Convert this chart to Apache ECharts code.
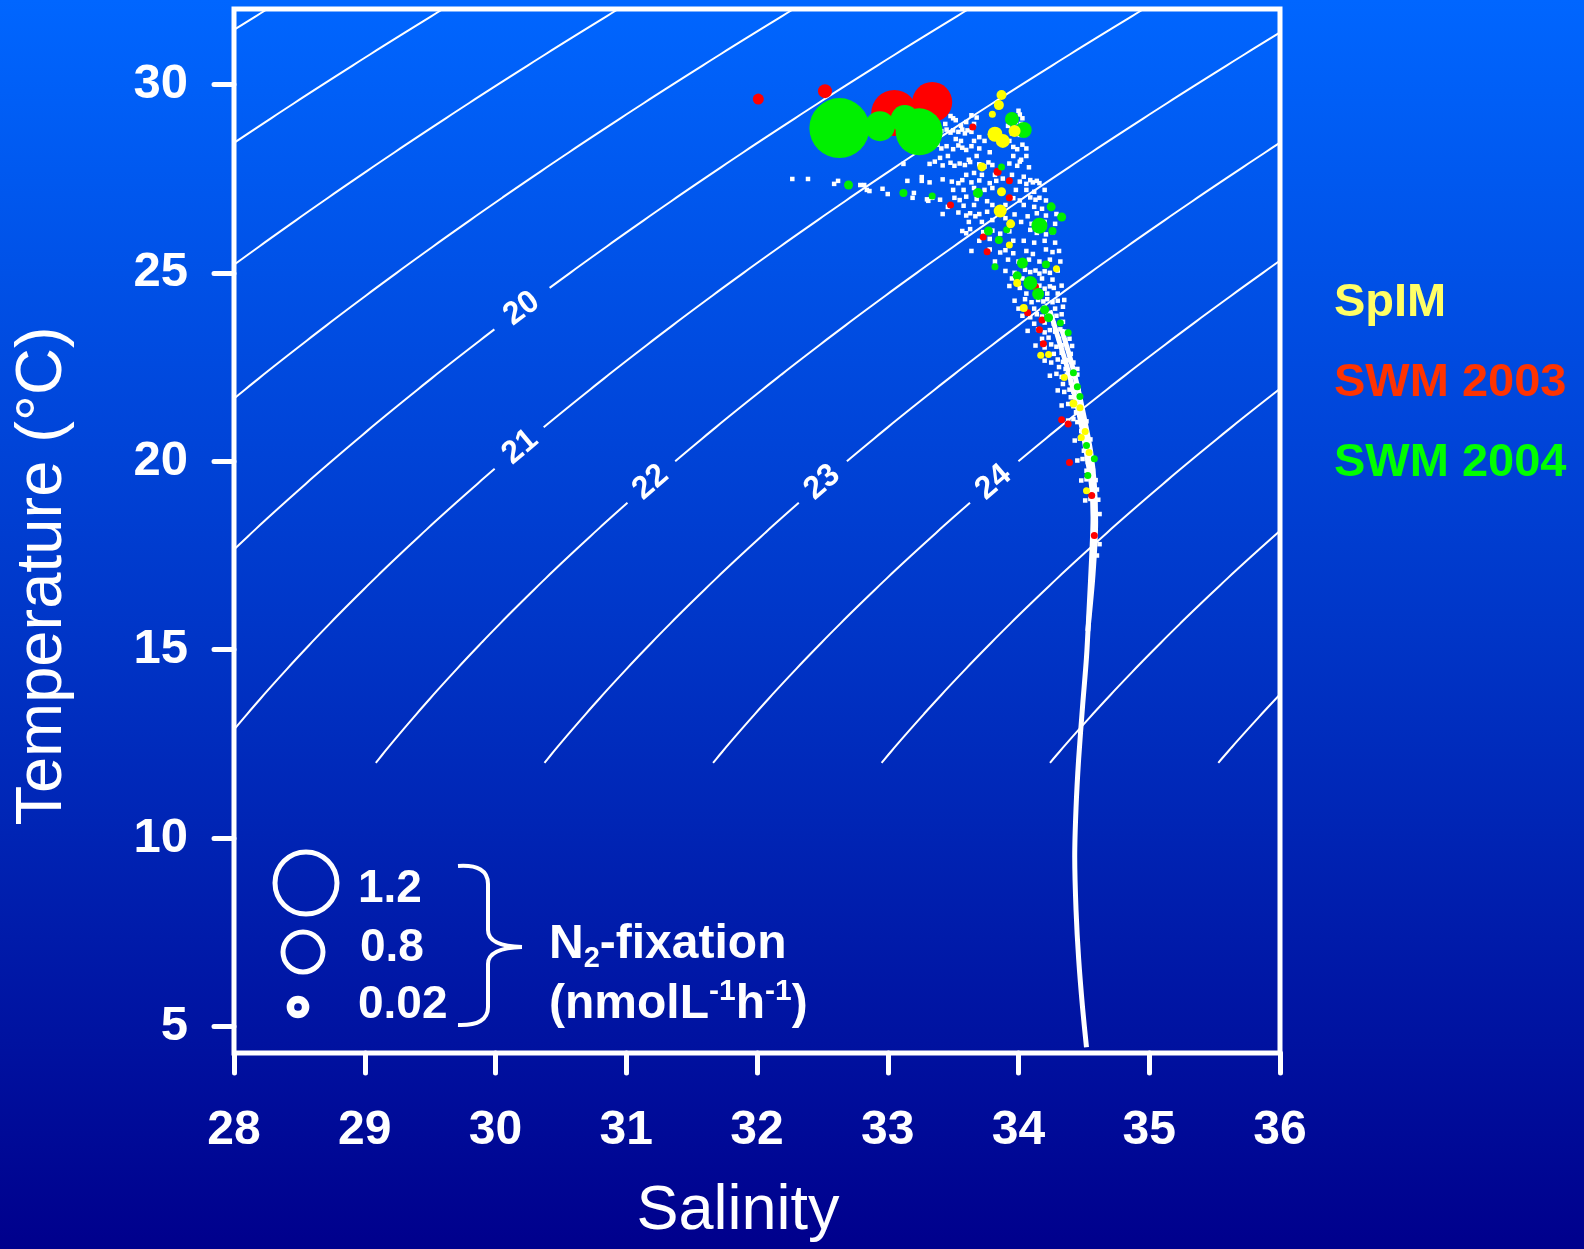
<!DOCTYPE html>
<html><head><meta charset="utf-8">
<script src="https://cdn.jsdelivr.net/npm/echarts@6/dist/echarts.min.js"></script>
<style>html,body{margin:0;padding:0;width:1584px;height:1249px;overflow:hidden;} #c{width:1584px;height:1249px;}</style>
</head><body><div id="c"></div><script>
// ---------- data ----------
const salinityRange = [28, 36];
const temperatureRange = [4.3, 32];
const temperatureTicks = [5, 10, 15, 20, 25, 30];
const sigmaLevels = [16, 17, 18, 19, 20, 21, 22, 23, 24, 25, 26, 27];
const contourLabelLevels = [20, 21, 22, 23, 24];
const contourLabelTemps = [24.05, 20.38, 19.44, 19.44, 19.44];
const contourMinTemp = 12;
const contourMaxTemp = 32.6;

// deep CTD profiles (salinity, temperature)
const ctdTrace = [[34.52,4.45],[34.49,5.5],[34.46,6.8],[34.44,8.1],[34.43,9.5],[34.44,10.8],[34.46,12.1],[34.49,13.5],[34.52,14.8],[34.54,16.1],[34.56,17.5],[34.57,18.5],[34.56,19.3],[34.53,20.0],[34.49,20.8],[34.44,21.6],[34.38,22.4],[34.31,23.2],[34.24,24.0]];
const ctdTrace2 = [[34.53,15.5],[34.57,17.0],[34.59,18.4],[34.58,19.4],[34.55,20.3],[34.50,21.2],[34.45,22.0],[34.39,22.8],[34.33,23.5]];
// surface CTD scatter (salinity, temperature)
const ctdCloud = [
[33.48,29.16],[33.50,29.10],[33.64,29.18],[33.68,29.12],[34.01,29.2],[34.03,29.1],
[33.41,28.76],[33.45,28.80],[33.48,28.72],[33.50,28.78],[33.54,28.74],[33.57,28.80],[33.59,28.70],[33.61,28.78],[33.64,28.74],[33.95,28.70],[33.97,28.80],[34.01,28.66],[34.03,28.72],
[33.34,28.34],[33.38,28.40],[33.41,28.30],[33.45,28.36],[33.50,28.28],[33.54,28.38],[33.57,28.32],[33.60,28.26],[33.64,28.36],[33.70,28.30],[33.96,28.34],[33.99,28.28],[34.03,28.40],[34.06,28.30],
[33.32,27.89],[33.36,27.95],[33.42,27.85],[33.48,27.92],[33.51,27.84],[33.55,27.90],[33.59,27.86],[33.63,27.94],[33.70,27.88],[33.74,27.82],[33.77,27.93],[33.80,27.86],[33.93,27.90],[33.99,27.84],[34.01,27.95],
[33.26,27.44],[33.32,27.40],[33.42,27.48],[33.49,27.42],[33.54,27.38],[33.57,27.46],[33.64,27.40],[33.70,27.45],[33.78,27.38],[33.83,27.44],[34.01,27.42],[34.06,27.36],[34.09,27.46],[34.11,27.40],[34.14,27.44],[34.16,27.38],
[33.19,26.99],[33.30,26.95],[33.34,27.02],[33.40,26.94],[33.51,26.99],[33.55,26.93],[33.60,27.02],[33.68,26.96],[33.76,26.90],[33.96,26.98],[34.01,26.92],[34.09,27.00],[34.13,26.94],[34.16,26.99],[34.21,26.92],
[33.42,26.56],[33.54,26.60],[33.60,26.52],[33.63,26.58],[33.67,26.50],[33.70,26.56],[33.76,26.62],[33.97,26.55],[34.07,26.50],[34.14,26.58],[34.21,26.52],[34.29,26.56],
[33.57,26.11],[33.60,26.05],[33.63,26.16],[33.73,26.08],[33.80,26.12],[33.86,26.04],[33.93,26.10],[34.09,26.14],[34.14,26.06],[34.21,26.02],[34.26,26.08],
[33.64,25.58],[33.78,25.62],[33.86,25.54],[33.90,25.60],[33.96,25.52],[34.06,25.58],[34.11,25.50],[34.21,25.62],[34.26,25.55],[34.31,25.58],
[32.27,27.49],[32.39,27.49],[32.59,27.36],[32.62,27.44],[32.79,27.33],[32.82,27.33],[32.86,27.17],[32.84,27.20],[32.96,27.23],[33.00,27.09],[33.15,27.44],[33.20,27.12],[33.26,27.54],[33.31,26.91],[33.34,26.99],[33.12,27.89],
[33.90,25.05],[33.97,25.00],[34.05,25.08],[34.09,25.02],[34.13,25.06],[34.16,24.98],[34.20,25.04],[34.24,25.00],[34.30,25.06],
[33.93,24.65],[34.01,24.60],[34.07,24.68],[34.13,24.62],[34.16,24.66],[34.20,24.58],[34.24,24.64],[34.27,24.60],[34.33,24.66],
[33.97,24.26],[34.05,24.30],[34.10,24.22],[34.15,24.28],[34.19,24.24],[34.22,24.30],[34.26,24.22],[34.30,24.26],[34.35,24.28],
[34.03,23.86],[34.09,23.82],[34.14,23.90],[34.18,23.84],[34.22,23.88],[34.25,23.82],[34.29,23.86],[34.33,23.90],
[34.07,23.46],[34.15,23.50],[34.20,23.42],[34.24,23.48],[34.28,23.44],[34.32,23.50],[34.35,23.44],
[34.13,23.07],[34.20,23.02],[34.25,23.10],[34.29,23.04],[34.33,23.08],[34.37,23.02],[34.41,23.06],
[34.20,22.67],[34.25,22.62],[34.30,22.70],[34.34,22.64],[34.38,22.68],[34.42,22.62],
[34.24,22.27],[34.29,22.32],[34.33,22.24],[34.37,22.30],[34.41,22.26],[34.45,22.30],
[34.30,21.88],[34.35,21.84],[34.39,21.90],[34.42,21.85],[34.46,21.88],
[34.33,21.48],[34.38,21.52],[34.42,21.46],[34.45,21.50],[34.48,21.45],
[34.38,21.08],[34.42,21.12],[34.45,21.04],[34.49,21.10],[34.52,21.06],
[34.43,20.55],[34.47,20.60],[34.51,20.52],[34.55,20.58],
[34.45,20.02],[34.49,20.06],[34.53,19.98],[34.57,20.04],
[34.48,19.49],[34.52,19.52],[34.56,19.46],[34.59,19.50],
[34.51,18.96],[34.55,19.00],[34.58,18.92],[34.61,18.98],
[33.36,29.0],[33.40,29.2],[33.44,28.95],[33.52,29.05],[33.56,28.9],[33.60,29.0],[33.66,28.95],[33.70,28.6],[33.74,28.5],[33.78,28.2],[33.68,28.1],[33.62,28.0],[33.46,28.1],[33.40,28.05],[33.52,28.55],[33.56,28.5],[33.66,28.5],[33.92,28.9],[33.98,29.0],[34.0,29.3],[34.02,28.95],[33.93,28.5],[33.96,28.1],[34.02,28.0],[34.06,28.1],[34.08,27.8],
[33.60,27.6],[33.66,27.65],[33.72,27.6],[33.82,27.6],[33.88,27.5],[33.95,27.6],[34.04,27.55],[33.5,27.2],[33.58,27.2],[33.66,27.25],[33.74,27.2],[33.8,27.25],[33.98,27.2],[34.06,27.2],[34.12,27.15],[34.2,27.2],[33.46,26.75],[33.58,26.78],[33.66,26.8],[33.8,26.8],[33.9,26.8],[34.04,26.8],[34.12,26.75],[34.18,26.7],[33.62,26.35],[33.72,26.35],[33.8,26.4],[33.9,26.45],[34.02,26.35],[34.1,26.3],[34.2,26.35],[34.28,26.3],[33.7,25.85],[33.78,25.9],[33.96,25.85],[34.04,25.85],[34.12,25.8],[34.2,25.85],[34.28,25.8],[33.82,25.3],[33.92,25.35],[34.0,25.3],[34.08,25.35],[34.16,25.3],[34.24,25.35],[34.32,25.3],
[33.95,24.85],[34.03,24.85],[34.1,24.82],[34.18,24.85],[34.26,24.82],[34.3,24.45],[34.22,24.45],[34.14,24.48],[34.06,24.45],[34.0,24.05],[34.12,24.05],[34.2,24.08],[34.28,24.05],[34.34,24.1],[34.12,23.65],[34.2,23.68],[34.27,23.65],[34.34,23.7],[34.39,23.25],[34.31,23.25],[34.23,23.28],[34.18,23.25],[34.27,22.85],[34.33,22.88],[34.4,22.85],[34.45,22.45],[34.36,22.45],[34.31,22.5],[34.44,22.05],[34.4,22.08],[34.34,22.05],[34.44,21.68],[34.4,21.7],[34.48,21.25],[34.44,21.3],[34.51,20.82],[34.48,20.8],[34.54,20.3],[34.5,20.28],[34.57,19.75],[34.52,19.75],[34.6,19.25],[34.55,19.22],[34.62,18.6],[34.58,18.4],[34.62,17.8],[34.6,17.5]
];
// N2 fixation samples: [salinity, temperature, rate nmol/L/h]
const swm2003 = [
[32.01,29.61,0.22],[32.52,29.82,0.28],[33.05,29.24,0.92],[33.34,29.53,0.8],[33.65,28.87,0.14],[33.84,27.68,0.16],[33.93,27.44,0.14],[33.93,26.99,0.14],[33.48,26.80,0.12],[33.73,25.95,0.12],[33.76,25.56,0.1],
[34.13,24.63,0.12],[34.07,23.94,0.12],[34.18,23.75,0.12],[34.16,23.49,0.1],[34.19,23.12,0.1],[34.33,21.10,0.1],[34.38,20.99,0.1],[34.39,19.97,0.1],[34.56,19.09,0.1],[34.58,18.03,0.1]
];
const swm2004 = [
[32.63,28.84,1.2],[32.94,28.89,0.6],[33.13,29.08,0.56],[33.24,28.74,0.94],[33.95,29.08,0.28],[34.04,28.79,0.32],[32.70,27.33,0.18],[33.12,27.12,0.16],[33.34,27.04,0.12],[33.69,27.12,0.2],[33.87,27.81,0.14],[34.25,26.75,0.18],[34.33,26.48,0.18],[34.16,26.25,0.32],[34.26,26.11,0.16],[33.77,26.11,0.18],[33.85,25.87,0.16],[33.91,26.14,0.14],[34.03,25.26,0.22],[34.21,25.22,0.16],
[33.82,25.16,0.14],[33.99,24.92,0.18],[34.09,24.73,0.28],[34.15,24.44,0.24],[34.20,24.02,0.18],[34.23,23.81,0.18],[34.32,23.67,0.14],[34.38,23.41,0.14],[34.42,22.35,0.14],[34.45,21.98,0.12],[34.47,21.72,0.14],[34.52,20.42,0.12],[34.58,20.07,0.12],[34.53,19.62,0.12]
];
const spim = [
[33.87,29.72,0.2],[33.85,29.45,0.2],[33.80,29.21,0.12],[33.82,28.68,0.3],[33.88,28.50,0.28],[33.97,28.76,0.24],[33.72,27.81,0.18],[33.87,27.15,0.18],[33.86,26.64,0.26],[33.94,26.30,0.18],[33.93,25.74,0.14],[34.29,25.11,0.14],
[33.99,24.73,0.16],[34.04,24.07,0.16],[34.17,22.81,0.14],[34.23,22.83,0.14],[34.35,22.22,0.14],[34.42,21.53,0.16],[34.47,21.42,0.14],[34.51,20.79,0.14],[34.48,20.63,0.14],[34.54,20.23,0.14],[34.52,19.22,0.12]
];
const seriesNames = ['SpIM', 'SWM 2003', 'SWM 2004'];
const legendTextColors = ['#ffff66', '#ff3300', '#00ff00'];
const sizeLegendLabels = ['1.2', '0.8', '0.02'];

// ---------- layout ----------
const G = {left: 234, right: 304, top: 9, bottom: 196};
const pxS = (1584 - G.left - G.right) / (salinityRange[1] - salinityRange[0]);
const pxT = (1249 - G.top - G.bottom) / (temperatureRange[1] - temperatureRange[0]);
const FONT = '"Liberation Sans", Arial, Helvetica, sans-serif';

// UNESCO 1981 equation of state at p = 0: sigma-t
function sigmaT(S, T) {
  const rw = 999.842594 + 6.793952e-2*T - 9.095290e-3*T*T + 1.001685e-4*T**3 - 1.120083e-6*T**4 + 6.536332e-9*T**5;
  const A = 8.24493e-1 - 4.0899e-3*T + 7.6438e-5*T*T - 8.2467e-7*T**3 + 5.3875e-9*T**4;
  const B = -5.72466e-3 + 1.0227e-4*T - 1.6546e-6*T*T;
  return rw + A*S + B*Math.pow(S, 1.5) + 4.8314e-4*S*S - 1000;
}
function solveS(sig, T) {
  let lo = 0, hi = 50;
  for (let i = 0; i < 60; i++) { const m = (lo + hi) / 2; if (sigmaT(m, T) < sig) lo = m; else hi = m; }
  return (lo + hi) / 2;
}

// label anchors on isopycnals
const labelPts = contourLabelLevels.map((lv, i) => {
  const T = contourLabelTemps[i], S = solveS(lv, T);
  const S2 = solveS(lv, T + 0.2);
  const ang = Math.atan2(0.2 * pxT, (S2 - S) * pxS) * 180 / Math.PI;
  return {lv, S, T, ang};
});

const contourSeries = [];
sigmaLevels.forEach(lv => {
  const lab = labelPts.find(p => p.lv === lv);
  let seg = [];
  const segs = [seg];
  const n = Math.round((contourMaxTemp - contourMinTemp) / 0.1);
  for (let k = 0; k <= n; k++) {
    const T = contourMinTemp + k * 0.1;
    const S = solveS(lv, T);
    if (lab) {
      const d = Math.hypot((S - lab.S) * pxS, (T - lab.T) * pxT);
      if (d < 30) { if (seg.length) { seg = []; segs.push(seg); } continue; }
    }
    seg.push([S, T]);
  }
  segs.filter(s => s.length > 1).forEach(s => contourSeries.push({
    type: 'line', data: s, symbol: 'none', silent: true, z: 1, clip: true,
    lineStyle: {color: '#ffffff', width: 2}, animation: false
  }));
});

const bubbleSize = v => Math.max(7, v[2] * 50);
const W = {fill: 'none', stroke: '#fff', lineWidth: 4};

const chart = echarts.init(document.getElementById('c'), null, {renderer: 'canvas'});
chart.setOption({
  animation: false,
  backgroundColor: {type: 'linear', x: 0, y: 0, x2: 0, y2: 1,
    colorStops: [{offset: 0, color: '#0066ff'}, {offset: 0.5, color: '#0036c8'}, {offset: 1, color: '#00008c'}]},
  grid: {left: G.left, right: G.right, top: G.top, bottom: G.bottom, show: true, borderColor: '#ffffff', borderWidth: 5},
  xAxis: {
    type: 'value', min: salinityRange[0], max: salinityRange[1], interval: 1,
    axisLine: {show: false}, splitLine: {show: false},
    axisTick: {show: true, length: 20, lineStyle: {color: '#fff', width: 5, cap: 'round'}},
    axisLabel: {color: '#fff', fontSize: 48, fontWeight: 'bold', fontFamily: FONT, margin: 54, lineHeight: 48}
  },
  yAxis: {
    type: 'value', min: temperatureRange[0], max: temperatureRange[1],
    axisLine: {show: false}, splitLine: {show: false},
    axisTick: {show: true, length: 20, customValues: temperatureTicks, lineStyle: {color: '#fff', width: 5, cap: 'round'}},
    axisLabel: {color: '#fff', fontSize: 49, fontWeight: 'bold', fontFamily: FONT, margin: 46, customValues: temperatureTicks}
  },
  legend: {
    orient: 'vertical', left: 1324, top: 275, icon: 'none', itemWidth: 0, itemHeight: 0, itemGap: 33,
    selectedMode: false,
    textStyle: {fontSize: 47, fontWeight: 'bold', fontFamily: FONT, lineHeight: 47},
    data: seriesNames.map((n, i) => ({name: n, textStyle: {color: legendTextColors[i]}}))
  },
  series: [
    ...contourSeries,
    {type: 'scatter', silent: true, z: 2, symbolSize: 2, itemStyle: {color: 'transparent', opacity: 1},
     data: labelPts.map(p => ({value: [p.S, p.T, p.lv], label: {rotate: p.ang}})),
     label: {show: true, position: [1, 1], align: 'center', verticalAlign: 'middle',
             formatter: p => String(p.value[2]), color: '#ffffff', opacity: 1, textBorderWidth: 0,
             fontSize: 32, fontWeight: 'bold', fontFamily: FONT},
     emphasis: {disabled: true}},
    {type: 'line', data: ctdTrace, symbol: 'none', z: 3, silent: true, smooth: 0.3,
     lineStyle: {color: '#fff', width: 5}},
    {type: 'line', data: ctdTrace2, symbol: 'none', z: 3, silent: true, smooth: 0.3,
     lineStyle: {color: '#fff', width: 5}},
    {type: 'scatter', data: ctdCloud, symbol: 'rect', symbolSize: 4.5, z: 3, silent: true, itemStyle: {color: '#fff', opacity: 1}},
    {name: 'SWM 2003', type: 'scatter', data: swm2003, symbol: 'circle', symbolSize: bubbleSize, z: 4, itemStyle: {color: '#ff0000', opacity: 1}},
    {name: 'SWM 2004', type: 'scatter', data: swm2004, symbol: 'circle', symbolSize: bubbleSize, z: 5, itemStyle: {color: '#00f000', opacity: 1}},
    {name: 'SpIM', type: 'scatter', data: spim, symbol: 'circle', symbolSize: bubbleSize, z: 6, itemStyle: {color: '#ffff00', opacity: 1}}
  ],
  graphic: [
    {type: 'text', x: 738, y: 1212, style: {text: 'Salinity', fill: '#fff', font: '63px ' + FONT, align: 'center', verticalAlign: 'middle'}},
    {type: 'text', x: 43, y: 576, rotation: Math.PI / 2, style: {text: 'Temperature (°C)', fill: '#fff', font: '65px ' + FONT, align: 'center', verticalAlign: 'middle'}},
    {type: 'circle', shape: {cx: 306, cy: 883, r: 31}, style: {fill: 'none', stroke: '#fff', lineWidth: 5}},
    {type: 'circle', shape: {cx: 303, cy: 952, r: 20}, style: {fill: 'none', stroke: '#fff', lineWidth: 5}},
    {type: 'circle', shape: {cx: 298, cy: 1007, r: 7.6}, style: {fill: 'none', stroke: '#fff', lineWidth: 7.5}},
    {type: 'text', x: 358, y: 889, style: {text: sizeLegendLabels[0], fill: '#fff', font: 'bold 46px ' + FONT, verticalAlign: 'middle'}},
    {type: 'text', x: 360, y: 948, style: {text: sizeLegendLabels[1], fill: '#fff', font: 'bold 46px ' + FONT, verticalAlign: 'middle'}},
    {type: 'text', x: 358, y: 1005, style: {text: sizeLegendLabels[2], fill: '#fff', font: 'bold 46px ' + FONT, verticalAlign: 'middle'}},
    {type: 'bezierCurve', shape: {x1: 458, y1: 866, cpx1: 488, cpy1: 864, x2: 488, y2: 884}, style: W},
    {type: 'line', shape: {x1: 488, y1: 884, x2: 488, y2: 930}, style: W},
    {type: 'bezierCurve', shape: {x1: 488, y1: 930, cpx1: 488, cpy1: 946, x2: 522, y2: 947}, style: W},
    {type: 'bezierCurve', shape: {x1: 522, y1: 947, cpx1: 488, cpy1: 948, x2: 488, y2: 964}, style: W},
    {type: 'line', shape: {x1: 488, y1: 964, x2: 488, y2: 1007}, style: W},
    {type: 'bezierCurve', shape: {x1: 488, y1: 1007, cpx1: 488, cpy1: 1026, x2: 458, y2: 1025}, style: W},
    {type: 'text', x: 549, y: 945, style: {
      text: '{a|N}{s|2}{a|-fixation}', verticalAlign: 'middle',
      rich: {a: {fill: '#fff', fontSize: 48, fontWeight: 'bold', fontFamily: FONT, lineHeight: 56, verticalAlign: 'middle'},
             s: {fill: '#fff', fontSize: 29, fontWeight: 'bold', fontFamily: FONT, lineHeight: 29, verticalAlign: 'bottom'}}}},
    {type: 'text', x: 549, y: 1005, style: {
      text: '{a|(nmolL}{p|-1}{a|h}{p|-1}{a|)}', verticalAlign: 'middle',
      rich: {a: {fill: '#fff', fontSize: 48, fontWeight: 'bold', fontFamily: FONT, lineHeight: 56, verticalAlign: 'middle'},
             p: {fill: '#fff', fontSize: 30, fontWeight: 'bold', fontFamily: FONT, lineHeight: 30, verticalAlign: 'top'}}}}
  ]
});
</script></body></html>
